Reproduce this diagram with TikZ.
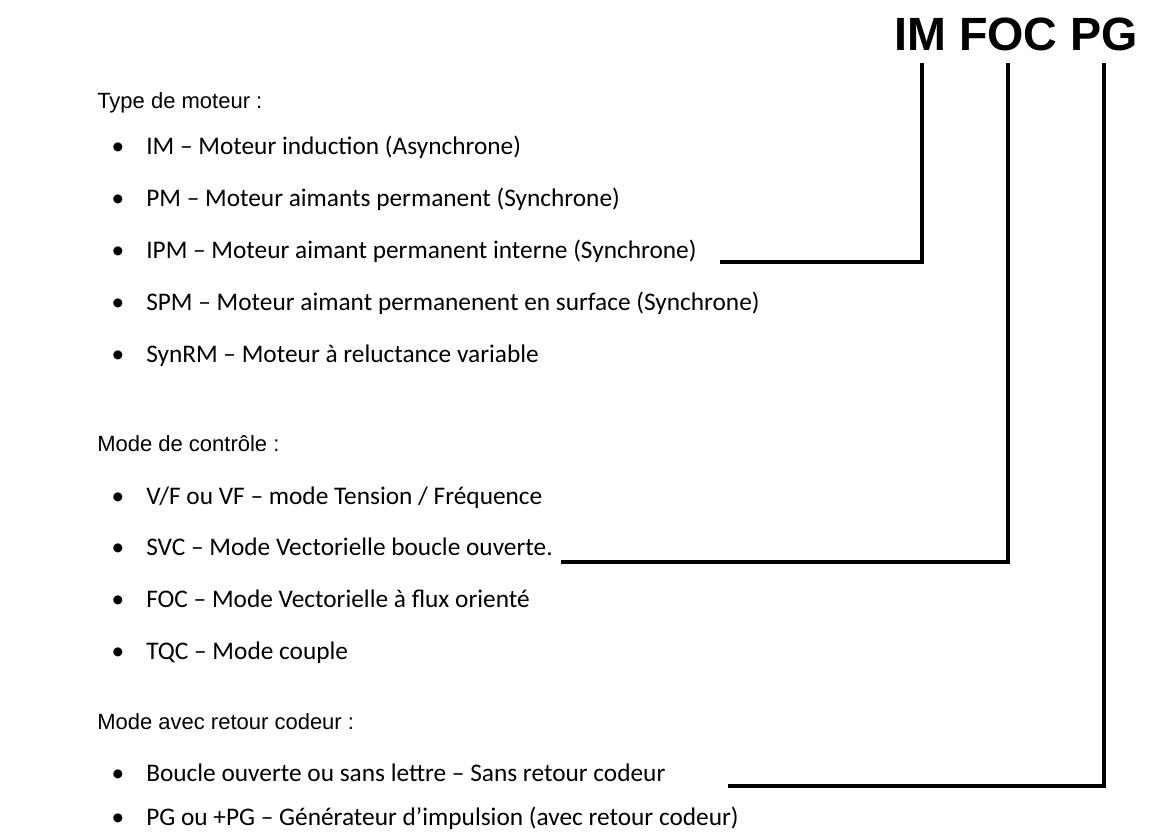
\documentclass[tikz,border=0pt]{standalone}
\usepackage{fontspec}
\setmainfont{Carlito}
\newfontfamily\arialfont{Liberation Sans}
\begin{document}
\begin{tikzpicture}[x=0.75pt,y=-0.75pt,
  body/.style={font=\fontsize{19}{23}\selectfont, anchor=base west, inner sep=0pt},
  head/.style={font=\arialfont\fontsize{16.5}{20}\selectfont, anchor=base west, inner sep=0pt},
  bul/.style={font=\fontsize{19}{23}\selectfont, anchor=base, inner sep=0pt},
  title/.style={font=\arialfont\bfseries\fontsize{35}{40}\selectfont, anchor=base west, inner sep=0pt},
  conn/.style={line width=2.4pt, line cap=rect, line join=miter}]
\useasboundingbox (0,0) rectangle (1150,832);

\node[title] (title) at (894,50) {IM FOC PG};

% Section 1
\node[head] (h1) at (97,108) {Type de moteur :};
\foreach \n/\y/\t in {a/154/{IM – Moteur induction (Asynchrone)},
                      b/206/{PM – Moteur aimants permanent (Synchrone)},
                      c/258/{IPM – Moteur aimant permanent interne (Synchrone)},
                      d/310/{SPM – Moteur aimant permanenent en surface (Synchrone)},
                      e/362/{SynRM – Moteur à reluctance variable}}{
  \node[bul] (b1\n) at (118,\y) {•};
  \node[body] (t1\n) at (146,\y) {\t};
}

% Section 2
\node[head] (h2) at (97,451) {Mode de contrôle :};
\foreach \n/\y/\t in {a/504/{V/F ou VF – mode Tension / Fréquence},
                      b/555/{SVC – Mode Vectorielle boucle ouverte.},
                      c/607/{FOC – Mode Vectorielle à flux orienté},
                      d/659/{TQC – Mode couple}}{
  \node[bul] (b2\n) at (118,\y) {•};
  \node[body] (t2\n) at (146,\y) {\t};
}

% Section 3
\node[head] (h3) at (97,729) {Mode avec retour codeur :};
\foreach \n/\y/\t in {a/781/{Boucle ouverte ou sans lettre – Sans retour codeur},
                      b/825/{PG ou +PG – Générateur d’impulsion (avec retour codeur)}}{
  \node[bul] (b3\n) at (118,\y) {•};
  \node[body] (t3\n) at (146,\y) {\t};
}

% connectors
\coordinate (top1) at (922,65);
\coordinate (top2) at (1008,65);
\coordinate (top3) at (1104,65);
\coordinate (end1) at (722,262);
\coordinate (end2) at (563,562);
\coordinate (end3) at (730,786);
\draw[conn] (top1) |- (end1);
\draw[conn] (top2) |- (end2);
\draw[conn] (top3) |- (end3);
\end{tikzpicture}
\end{document}
